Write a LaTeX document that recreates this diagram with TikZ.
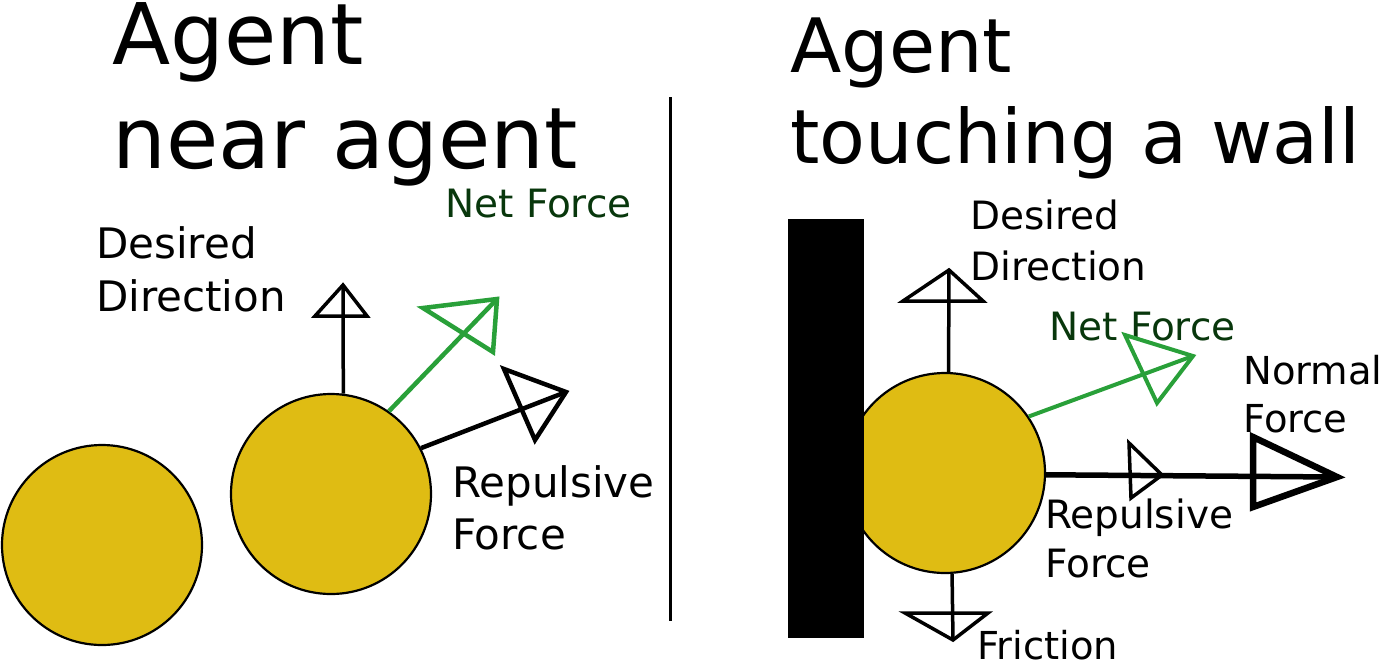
\documentclass[tikz,border=0pt]{standalone}
\usepackage{fontspec}
\setmainfont{DejaVu Sans}
\definecolor{agentfill}{RGB}{223,188,19}
\definecolor{netgreen}{RGB}{41,160,57}
\definecolor{netdark}{RGB}{8,55,12}
\begin{document}
\begin{tikzpicture}[x=1pt,y=-1pt,line join=miter]
\useasboundingbox (0,0) rectangle (1383,662);
\tikzset{
  agent/.style={circle, draw=black, line width=2.2pt, fill=agentfill, minimum size=200pt, inner sep=0pt},
  lbl/.style={anchor=base west, inner sep=0pt, align=left},
  thinforce/.style={line width=3.5pt, draw=black},
  force/.style={line width=4.5pt, draw=black},
  netforce/.style={line width=4.5pt, draw=netgreen},
  bigforce/.style={line width=6.5pt, draw=black},
}
% agents
\node[agent] (c1) at (102,545) {};
\node[agent] (c2) at (331,494) {};
\node[agent] (c3) at (945,473) {};
% wall
\fill[black] (788,219) rectangle (864,638);
% divider
\draw[line width=3pt] (670,97) -- (670,621);

% titles (anchor = baseline of last line)
\node[lbl, font=\fontsize{85}{104}\selectfont] (t1) at (112,168) {Agent\\near agent};
\node[lbl, font=\fontsize{75}{91}\selectfont] (t2) at (790,163) {Agent\\touching a wall};

% labels left
\node[lbl, font=\fontsize{42}{53}\selectfont] (dd1) at (96,311) {Desired\\Direction};
\node[lbl, font=\fontsize{39}{48}\selectfont, text=netdark] (net1) at (445,217) {Net Force};
\node[lbl, font=\fontsize{42}{52}\selectfont] (rep1) at (452,549) {Repulsive\\Force};
% labels right
\node[lbl, font=\fontsize{39}{51}\selectfont] (dd2) at (970,280) {Desired\\Direction};
\node[lbl, font=\fontsize{39}{48}\selectfont, text=netdark] (net2) at (1049,340) {Net Force};
\node[lbl, font=\fontsize{38.5}{48}\selectfont] (nor) at (1243,432) {Normal\\Force};
\node[lbl, font=\fontsize{39}{49}\selectfont] (rep2) at (1045,577) {Repulsive\\Force};
\node[lbl, font=\fontsize{38.5}{48}\selectfont] (fri) at (977,659) {Friction};

% left arrows
\coordinate (dt1) at (343,285);
\draw[thinforce] (c2.83) -- (dt1);
\draw[thinforce] (dt1) -- (315,316) -- (367,316) -- cycle;
\coordinate (nt1) at (497,299);
\draw[netforce] (c2.55) -- (nt1);
\draw[netforce] (nt1) -- (423,308) -- (493,352) -- cycle;
\coordinate (rt1) at (566,392);
\draw[force] (c2.27) -- (rt1);
\draw[force] (rt1) -- (504,369) -- (535,440) -- cycle;

% right arrows
\coordinate (dt2) at (949,270);
\draw[thinforce] (c3.88) -- (dt2);
\draw[thinforce] (dt2) -- (903,301) -- (983,301) -- cycle;
\coordinate (nt2) at (1193,356);
\draw[netforce, line width=4pt] (c3.34) -- (nt2);
\draw[netforce, line width=4pt] (nt2) -- (1125,335) -- (1157,403) -- cycle;
\coordinate (rt2) at (1162,475);
\coordinate (nf) at (1337,477);
\draw[force, line width=5.5pt] (c3.-1) -- (nf);
\draw[thinforce] (rt2) -- (1129,443) -- (1131,498) -- cycle;
\draw[bigforce] (nf) -- (1253,437) -- (1253,507) -- cycle;
\coordinate (ft) at (953,640);
\draw[thinforce] (c3.-86) -- (ft);
\draw[thinforce] (ft) -- (905,613) -- (988,613) -- cycle;
\end{tikzpicture}
\end{document}
